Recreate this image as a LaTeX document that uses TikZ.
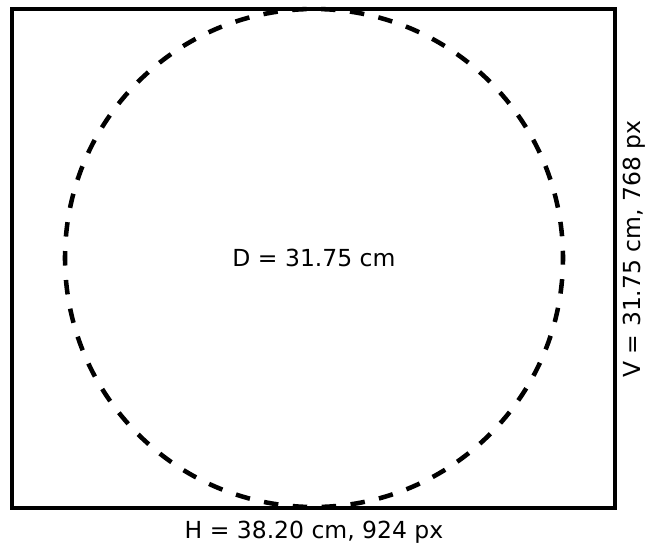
\documentclass[tikz,border=0pt]{standalone}
\usepackage{fontspec}
\setmainfont{DejaVu Sans}
\usetikzlibrary{positioning}

\tikzset{
  frame/.style={line width=2.5pt},
  rim/.style={line width=3.4pt, dash pattern=on 10.87pt off 10.87pt, dash phase=5.43pt},
  lbl/.style={inner sep=0pt, font=\fontsize{17.6}{20}\selectfont}
}

\begin{document}
\begin{tikzpicture}[x=0.75pt, y=0.75pt]
            \useasboundingbox (0,0) rectangle (646,544);
            \coordinate (c) at (314,286);
            \draw[frame] (12,36) rectangle (615,535);
            \draw[rim] (c) circle[radius=249];
            \node[lbl] (d) at (c) {D = 31.75 cm};
            \node[lbl, anchor=base] (h) at (314,6) {H = 38.20 cm, 924 px};
            \node[lbl, anchor=base, rotate=90] (v) at (640,295) {V = 31.75 cm, 768 px};
        \end{tikzpicture}
\end{document}
